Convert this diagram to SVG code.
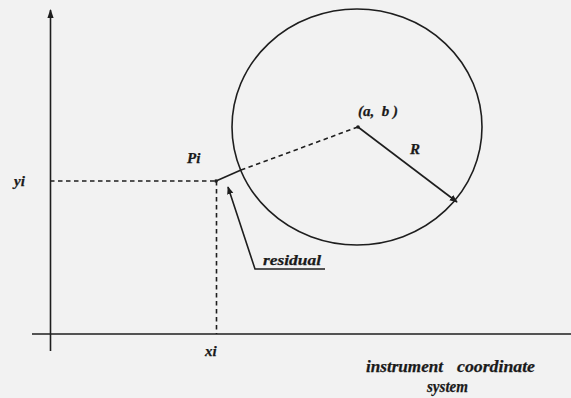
<svg xmlns="http://www.w3.org/2000/svg" width="571" height="398" viewBox="0 0 571 398">
<defs>
<style>
.t{font-family:"Liberation Serif","Times New Roman",serif;font-weight:bold;font-style:italic;font-size:15px;fill:#1a1a1a;stroke:#1a1a1a;stroke-width:0.25}
.b{font-size:16px}
.s{fill:none;stroke:#1e1e1e;stroke-width:1.6}
.d{fill:none;stroke:#1e1e1e;stroke-width:1.6;stroke-dasharray:4.5 3.5}
</style>
<marker id="ah" viewBox="0 0 10 10" refX="9" refY="5" markerWidth="8" markerHeight="8" orient="auto" markerUnits="userSpaceOnUse">
<path d="M0,1 L10,5 L0,9 Z" fill="#1e1e1e"/>
</marker>
<marker id="ah2" viewBox="0 0 10 10" refX="9" refY="5" markerWidth="9" markerHeight="9" orient="auto" markerUnits="userSpaceOnUse">
<path d="M0,1.5 L10,5 L0,8.5 Z" fill="#1e1e1e"/>
</marker>
</defs>
<rect width="571" height="398" fill="#f2f2f2"/>
<g id="axes">
<line class="s" x1="50.5" y1="351" x2="50.5" y2="10" marker-end="url(#ah2)"/>
<line class="s" x1="32" y1="334" x2="571" y2="334"/>
</g>
<g id="circle">
<ellipse class="s" cx="357" cy="127" rx="125" ry="118"/>
</g>
<g id="connectors">
<line class="d" x1="50" y1="181" x2="216" y2="181"/>
<line class="d" x1="216.5" y1="181" x2="216.5" y2="334"/>
<line class="d" x1="241" y1="170" x2="358" y2="127"/>
<line class="s" x1="216" y1="181" x2="241" y2="170" stroke-width="2.2"/>
<line class="s" x1="358" y1="127" x2="457" y2="202" marker-end="url(#ah)"/>
<polyline class="s" points="325,269 255,269 228,187" marker-end="url(#ah)"/>
<circle cx="216" cy="181" r="1.8" fill="#1e1e1e"/>
<circle cx="358" cy="127" r="1.8" fill="#1e1e1e"/>
</g>
<g id="labels">
<text class="t" x="14" y="186">yi</text>
<text class="t" x="187" y="163">Pi</text>
<text class="t" x="358" y="116" xml:space="preserve">(a,  b )</text>
<text class="t" x="410" y="154">R</text>
<text class="t" x="263" y="265" textLength="58" lengthAdjust="spacingAndGlyphs">residual</text>
<text class="t" x="205" y="356">xi</text>
<text class="t b" x="366" y="372" textLength="77" lengthAdjust="spacingAndGlyphs">instrument</text>
<text class="t b" x="457" y="372" textLength="78" lengthAdjust="spacingAndGlyphs">coordinate</text>
<text class="t b" x="427" y="392" textLength="41" lengthAdjust="spacingAndGlyphs">system</text>
</g>
</svg>
